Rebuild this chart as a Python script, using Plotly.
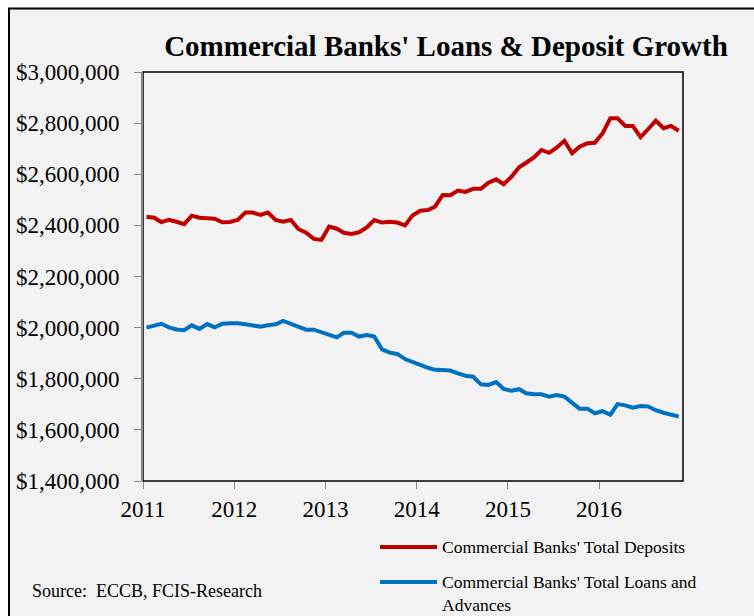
import pandas as pd
import plotly.graph_objects as go

# Monthly observations, Jan 2011 - Nov 2016 (mid-month points)
months = pd.date_range("2011-01-01", "2016-11-01", freq="MS") + pd.Timedelta(days=14)

# Commercial banks' total deposits (EC$ thousands)
deposits = [
    2434, 2430, 2413, 2422, 2414, 2405, 2438, 2430, 2428, 2426, 2412, 2413,
    2421, 2450, 2450, 2441, 2450, 2421, 2414, 2421, 2385, 2371, 2347, 2343,
    2395, 2387, 2371, 2366, 2373, 2392, 2421, 2411, 2414, 2411, 2400, 2439,
    2457, 2460, 2473, 2519, 2518, 2536, 2531, 2543, 2543, 2567, 2580, 2561,
    2590, 2627, 2645, 2666, 2695, 2684, 2704, 2731, 2682, 2708, 2721, 2723,
    2760, 2819, 2819, 2789, 2789, 2745, 2776, 2810, 2780, 2789, 2770,
]

# Commercial banks' total loans and advances (EC$ thousands)
loans = [
    2000, 2006, 2015, 2001, 1993, 1990, 2009, 1995, 2014, 2001, 2015, 2017,
    2017, 2013, 2010, 2004, 2009, 2013, 2026, 2014, 2002, 1992, 1992, 1981,
    1972, 1962, 1980, 1980, 1965, 1971, 1965, 1915, 1902, 1897, 1877, 1864,
    1854, 1843, 1835, 1834, 1832, 1821, 1812, 1808, 1778, 1776, 1787, 1760,
    1753, 1759, 1743, 1739, 1739, 1730, 1736, 1730, 1708, 1683, 1683, 1665,
    1673, 1659, 1701, 1696, 1687, 1693, 1692, 1677, 1667, 1659, 1652,
]

series_names = [
    "Commercial Banks' Total Deposits",
    "Commercial Banks' Total Loans and Advances",
]
# legend labels, wrapped the way they are laid out in the key
legend_labels = [
    "Commercial Banks' Total Deposits",
    "Commercial Banks' Total Loans and<br>Advances",
]
series_colors = ["#c00000", "#0070c0"]
year_ticks = ["2011-01-01", "2012-01-01", "2013-01-01", "2014-01-01", "2015-01-01", "2016-01-01"]
year_labels = ["2011", "2012", "2013", "2014", "2015", "2016"]

SERIF = "Liberation Serif, Times New Roman, serif"
BG = "#f2f2f2"

fig = go.Figure()
for name, vals, col in zip(series_names, [deposits, loans], series_colors):
    fig.add_trace(go.Scatter(
        x=months, y=[v * 1000 for v in vals], mode="lines", name=name,
        line=dict(color=col, width=4), showlegend=False,
    ))

# pixel helpers for paper-positioned decorations (plot area 143..683 x 72..481)
L, R, T, B = 143, 683, 72, 481
def px(x):
    return (x - L) / (R - L)
def py(y):
    return (B - y) / (B - T)

shapes = [
    # chart frame and background
    dict(type="rect", xref="paper", yref="paper", x0=px(9), x1=px(770), y0=py(630), y1=py(8.5),
         line=dict(color="black", width=2), fillcolor=BG, layer="below"),
    # plot-area border
    dict(type="rect", xref="paper", yref="paper", x0=0, x1=1, y0=0, y1=1,
         line=dict(color="black", width=1.5), layer="below"),
]
annotations = [
    dict(text="Source:  ECCB, FCIS-Research", xref="paper", yref="paper",
         x=px(30), y=py(591), xanchor="left", yanchor="middle", showarrow=False,
         font=dict(family=SERIF, size=18, color="black")),
]
# hand-built key: line sample + label, one row per series
legend_rows = [547, 582]
for label, col, yy in zip(legend_labels, series_colors, legend_rows):
    shapes.append(dict(type="line", xref="paper", yref="paper", x0=px(380), x1=px(437),
                       y0=py(yy), y1=py(yy), line=dict(color=col, width=4)))
    annotations.append(dict(text=label, xref="paper", yref="paper", x=px(440),
                            y=py(yy - 12), xanchor="left", yanchor="top",
                            align="left", showarrow=False,
                            font=dict(family=SERIF, size=17.5, color="black")))

fig.update_layout(
    width=754, height=616,
    margin=dict(l=L, r=754 - R, t=T, b=616 - B),
    paper_bgcolor="white", plot_bgcolor=BG,
    title=dict(text="<b>Commercial Banks' Loans & Deposit Growth</b>",
               x=446 / 754, xanchor="center", xref="container",
               y=1 - 46 / 616, yanchor="middle", yref="container",
               font=dict(family=SERIF, size=29, color="black")),
    font=dict(family=SERIF, color="black"),
    shapes=shapes, annotations=annotations,
    xaxis=dict(type="date", range=["2011-01-01", "2016-12-02"],
               tickvals=year_ticks, ticktext=year_labels,
               ticks="outside", ticklen=7, tickcolor="#868686", tickwidth=1,
               showgrid=False, zeroline=False, showline=False,
               tickfont=dict(family=SERIF, size=23, color="black")),
    yaxis=dict(range=[1400000, 3000000], dtick=200000, tickformat="$,.0f",
               ticks="outside", ticklen=7, tickcolor="#868686", tickwidth=1,
               ticklabelstandoff=10,
               showgrid=False, zeroline=False, showline=True, linecolor="#868686", linewidth=2,
               tickfont=dict(family=SERIF, size=23, color="black")),
)

fig.write_html("out.html")
